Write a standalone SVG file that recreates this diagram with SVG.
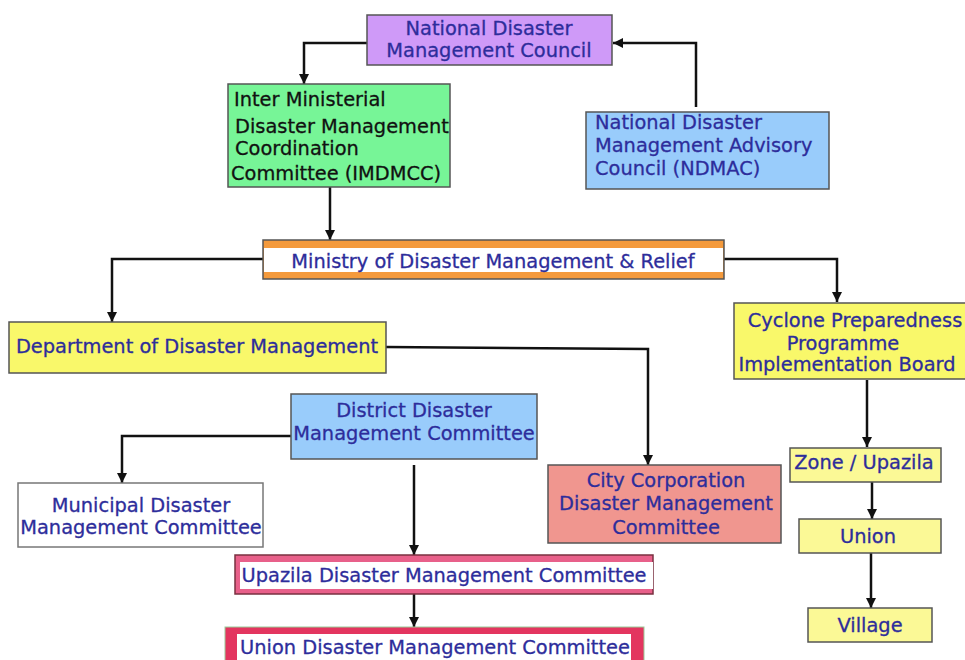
<svg xmlns="http://www.w3.org/2000/svg" width="965" height="660" viewBox="0 0 965 660">
<defs>
<marker id="ah" markerUnits="userSpaceOnUse" markerWidth="11" markerHeight="11" refX="10" refY="5.5" orient="auto">
<path d="M0,0.5 L10,5.5 L0,10.5 z" fill="#111"/>
</marker>
<style>
text{font-family:"DejaVu Sans","Verdana",sans-serif;font-size:19.4px;fill:#2d2d9b;stroke:#2d2d9b;stroke-width:0.3}
.c{text-anchor:middle}
.k{fill:#111;stroke:#111}
.box{stroke:#555;stroke-width:1.5}
.ln{fill:none;stroke:#111;stroke-width:2.5;marker-end:url(#ah)}
</style>
</defs>
<rect width="965" height="660" fill="#fff"/>
<g id="connectors">
<polyline class="ln" points="367,43 304,43 304,84"/>
<polyline class="ln" points="696,107 696,43 613,43"/>
<polyline class="ln" points="330,187 330,240"/>
<polyline class="ln" points="263,259 112,259 112,322"/>
<polyline class="ln" points="724,259 837,259 837,302"/>
<polyline class="ln" points="386,347 648,349 648,465"/>
<polyline class="ln" points="291,436 122,436 122,483"/>
<polyline class="ln" points="414,465 414,555"/>
<polyline class="ln" points="414,594 414,627"/>
<polyline class="ln" points="867,380 867,447"/>
<polyline class="ln" points="872,482 872,519"/>
<polyline class="ln" points="871,553 871,608"/>
</g>
<g id="ndmc">
<rect class="box" x="367" y="15" width="245" height="50" fill="#cf9af8"/>
<text class="c" x="489" y="35">National Disaster</text>
<text class="c" x="489" y="57">Management Council</text>
</g>
<g id="imdmcc">
<rect class="box" x="228" y="84" width="222" height="103" fill="#77f597"/>
<text class="k" x="234" y="106">Inter Ministerial</text>
<text class="k" x="235" y="133">Disaster Management</text>
<text class="k" x="235" y="155">Coordination</text>
<text class="k" x="231" y="180">Committee (IMDMCC)</text>
</g>
<g id="ndmac">
<rect class="box" x="586" y="112" width="243" height="77" fill="#99ccfb"/>
<text x="595" y="129">National Disaster</text>
<text x="595" y="152">Management Advisory</text>
<text x="595" y="175">Council (NDMAC)</text>
</g>
<g id="ministry">
<rect class="box" x="263" y="240" width="461" height="39" fill="#f49a3c"/>
<rect x="264" y="248" width="459" height="24" fill="#fff"/>
<text class="c" x="493" y="268">Ministry of Disaster Management &amp; Relief</text>
</g>
<g id="ddm">
<rect class="box" x="9" y="322" width="377" height="51" fill="#f9f86a"/>
<text class="c" x="197" y="353">Department of Disaster Management</text>
</g>
<g id="cpp">
<rect class="box" x="734" y="303" width="240" height="76" fill="#f9f86a"/>
<text class="c" x="855" y="327">Cyclone Preparedness</text>
<text class="c" x="843" y="350">Programme</text>
<text class="c" x="847" y="371">Implementation Board</text>
</g>
<g id="district">
<rect class="box" x="291" y="394" width="246" height="65" fill="#99ccfb"/>
<text class="c" x="414" y="417">District Disaster</text>
<text class="c" x="414" y="440">Management Committee</text>
</g>
<g id="municipal">
<rect x="18" y="483" width="245" height="64" fill="#fff" stroke="#777" stroke-width="1.5"/>
<text class="c" x="141" y="512">Municipal Disaster</text>
<text class="c" x="141" y="534">Management Committee</text>
</g>
<g id="citycorp">
<rect class="box" x="548" y="465" width="233" height="78" fill="#f0968f"/>
<text class="c" x="666" y="487">City Corporation</text>
<text class="c" x="666" y="510">Disaster Management</text>
<text class="c" x="666" y="534">Committee</text>
</g>
<g id="upazila">
<rect x="235" y="555" width="418" height="39" fill="#e8608a" stroke="#7a3040" stroke-width="1.5"/>
<rect x="240" y="562" width="413" height="27" fill="#fff"/>
<text class="c" x="444" y="582">Upazila Disaster Management Committee</text>
</g>
<g id="union">
<rect x="225" y="627" width="419" height="40" fill="#e3355f" stroke="#9c9" stroke-width="1"/>
<rect x="237" y="634" width="394" height="30" fill="#fff"/>
<text class="c" x="435" y="654">Union Disaster Management Committee</text>
</g>
<g id="zone">
<rect class="box" x="790" y="448" width="151" height="34" fill="#fbf996"/>
<text class="c" x="864" y="469">Zone / Upazila</text>
</g>
<g id="unionc">
<rect class="box" x="799" y="519" width="142" height="34" fill="#fbf996"/>
<text class="c" x="868" y="543">Union</text>
</g>
<g id="village">
<rect class="box" x="808" y="608" width="124" height="34" fill="#fbf996"/>
<text class="c" x="870" y="632">Village</text>
</g>
</svg>
